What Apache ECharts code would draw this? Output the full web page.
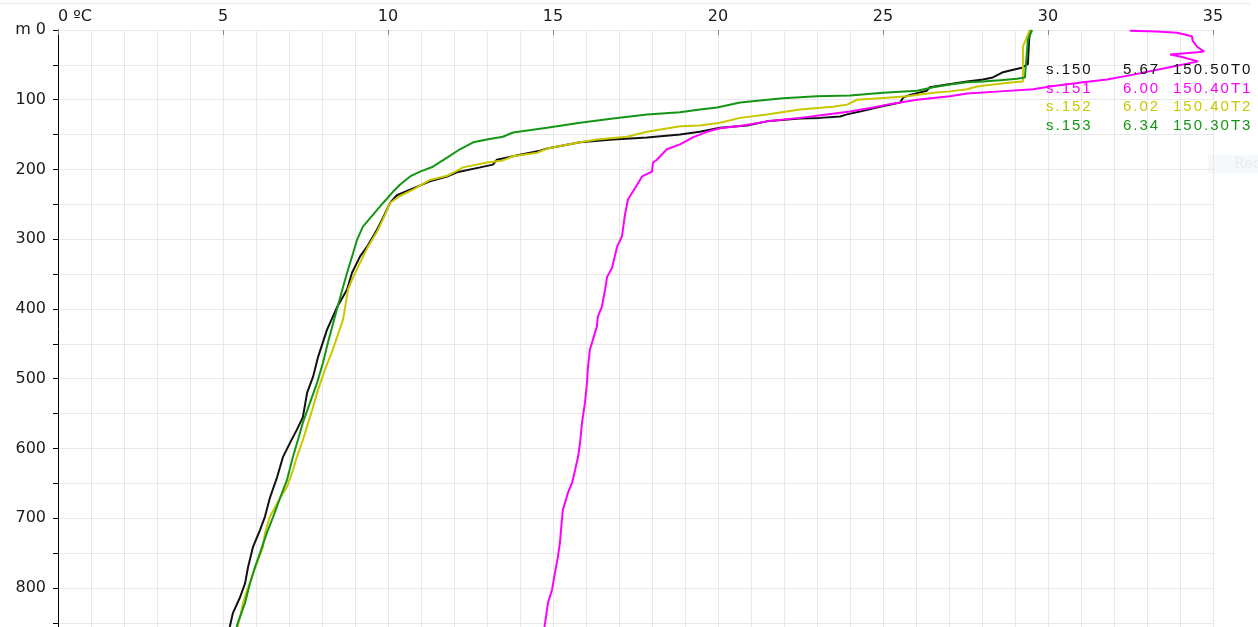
<!DOCTYPE html>
<html>
<head>
<meta charset="utf-8">
<title>Temperature profiles s.150 - s.153</title>
<script src="https://cdn.jsdelivr.net/npm/echarts@6/dist/echarts.min.js"></script>
<style>
  html, body { margin: 0; padding: 0; background: #fff; }
  #chart { width: 1258px; height: 627px; }
</style>
</head>
<body>
<div id="chart"></div>
<script>
// s.150 (black)
const s150Temp = [29.45, 29.42, 29.39, 29.21, 28.85, 28.61, 28.33, 28.03, 27.55, 26.94,
  26.42, 26.33, 25.82, 25.61, 25.52, 24.91, 24.30, 23.91, 23.70, 23.09,
  22.48, 21.48, 20.88, 20.06, 19.45, 18.85, 17.85, 16.82, 15.82, 14.82,
  14.61, 14.00, 13.30, 13.18, 12.79, 12.09, 11.79, 11.27, 10.76, 10.27,
  10.06, 9.85, 9.67, 9.36, 9.15, 8.91, 8.76, 8.45, 8.15, 7.88,
  7.73, 7.55, 7.42, 7.24, 7.03, 6.82, 6.64, 6.42, 6.27, 6.12,
  5.91, 5.76, 5.67, 5.52, 5.30, 5.21, 5.18];
const s150Depth = [0, 21, 49, 54, 58, 61, 68, 71, 74, 78,
  82, 87, 93, 97, 104, 110, 117, 121, 124, 126,
  127, 131, 137, 140, 146, 150, 154, 157, 161, 170,
  173, 179, 186, 193, 197, 204, 210, 217, 227, 237,
  248, 269, 286, 311, 325, 348, 372, 398, 430, 469,
  497, 520, 555, 573, 592, 612, 641, 671, 698, 717,
  741, 770, 793, 813, 836, 855, 860];

// s.151 (magenta)
const s151Temp = [32.48, 33.30, 33.91, 34.36, 34.39, 34.52, 34.73, 34.52, 33.70, 34.00,
  34.55, 33.61, 32.58, 31.79, 31.06, 30.06, 29.55, 28.55, 27.55, 27.03,
  26.03, 25.52, 25.12, 24.70, 24.00, 23.30, 22.48, 21.48, 20.76, 20.06,
  19.67, 19.45, 19.24, 18.85, 18.45, 18.15, 18.03, 18.00, 17.70, 17.55,
  17.27, 17.18, 17.09, 16.94, 16.79, 16.64, 16.58, 16.48, 16.36, 16.33,
  16.21, 16.12, 16.06, 16.03, 15.97, 15.88, 15.82, 15.76, 15.67, 15.58,
  15.45, 15.30, 15.27, 15.21, 15.15, 15.06, 14.97, 14.85, 14.76, 14.73];
const s151Depth = [1, 2, 4, 9, 16, 24, 31, 32, 35, 38,
  45, 54, 64, 71, 75, 81, 85, 88, 91, 95,
  100, 104, 107, 111, 117, 121, 126, 131, 137, 141,
  146, 150, 154, 164, 171, 186, 190, 203, 210, 222,
  243, 265, 296, 311, 341, 354, 372, 397, 411, 425,
  444, 458, 483, 506, 534, 563, 592, 612, 631, 649,
  664, 688, 702, 735, 755, 778, 803, 821, 850, 860];

// s.152 (yellow)
const s152Temp = [29.45, 29.24, 29.24, 29.24, 28.94, 28.33, 27.85, 27.55, 27.03, 26.52,
  25.73, 25.12, 24.21, 23.91, 23.48, 22.48, 21.48, 20.67, 20.06, 19.45,
  18.85, 17.85, 17.24, 16.33, 15.82, 14.82, 14.52, 13.79, 13.48, 13.00,
  12.27, 12.09, 11.79, 11.27, 10.76, 10.36, 10.06, 9.91, 9.67, 9.39,
  9.15, 8.91, 8.79, 8.64, 8.33, 8.09, 7.88, 7.70, 7.42, 7.24,
  7.12, 6.94, 6.73, 6.42, 6.27, 6.21, 6.03, 5.88, 5.73, 5.61,
  5.52, 5.45, 5.42];
const s152Depth = [0, 24, 47, 74, 75, 78, 81, 85, 88, 90,
  95, 97, 100, 107, 110, 114, 121, 126, 133, 137,
  138, 146, 153, 157, 161, 170, 176, 181, 187, 190,
  197, 202, 209, 215, 229, 238, 248, 265, 289, 311,
  334, 358, 372, 415, 458, 487, 516, 545, 588, 612,
  631, 655, 671, 698, 722, 741, 764, 784, 803, 821,
  841, 854, 860];

// s.153 (green)
const s153Temp = [29.52, 29.39, 29.36, 29.30, 29.06, 28.55, 28.03, 27.55, 27.03, 26.52,
  26.03, 25.00, 24.00, 23.00, 21.97, 21.27, 20.67, 19.97, 19.45, 18.85,
  17.85, 16.82, 15.82, 14.82, 13.79, 13.48, 13.00, 12.58, 12.18, 11.79,
  11.36, 10.97, 10.67, 10.36, 10.15, 9.85, 9.67, 9.24, 9.06, 8.91,
  8.76, 8.64, 8.39, 8.18, 8.03, 7.85, 7.64, 7.42, 7.27, 7.12,
  6.94, 6.73, 6.52, 6.33, 6.12, 5.97, 5.82, 5.67, 5.45, 5.39];
const s153Depth = [0, 14, 32, 68, 70, 72, 74, 75, 78, 82,
  87, 90, 94, 95, 98, 101, 104, 111, 114, 118,
  121, 127, 133, 140, 147, 153, 157, 161, 171, 183,
  196, 203, 210, 222, 232, 248, 258, 282, 301, 325,
  348, 368, 411, 448, 477, 506, 534, 563, 588, 612,
  645, 671, 698, 721, 750, 770, 793, 821, 850, 860];

const stationNames = ['s.150', 's.151', 's.152', 's.153'];
const stationVals = ['5.67', '6.00', '6.02', '6.34'];
const stationCodes = ['150.50T0', '150.40T1', '150.40T2', '150.30T3'];
const stationColors = ['#111111', '#ff00ff', '#c8c800', '#149614'];

function pairs(t, d) {
  return t.map(function (v, i) { return [v, d[i]]; });
}

// letter-spaced text for the station list on the right
const legendFont = '15px "Liberation Sans", Arial, sans-serif';
const measureCtx = document.createElement('canvas').getContext('2d');
measureCtx.font = legendFont;
function spacedText(str, x, y, color) {
  const els = [];
  let cx = x;
  for (const ch of str) {
    els.push({
      type: 'text', x: cx, y: y, silent: true, z: 100,
      style: { text: ch, font: legendFont, fill: color, verticalAlign: 'middle' }
    });
    cx += measureCtx.measureText(ch).width + 2;
  }
  return els;
}

const graphics = [
  { type: 'line', silent: true, shape: { x1: 0, y1: 3.5, x2: 1250, y2: 3.5 }, style: { stroke: '#e8e8e8', lineWidth: 1 } },
  { type: 'rect', silent: true, shape: { x: 1208, y: 155, width: 50, height: 18 }, style: { fill: '#f6f9fc' } },
  { type: 'text', silent: true, x: 1234, y: 164, style: { text: 'Rec', font: '14px "DejaVu Serif"', fill: '#e9ebef', verticalAlign: 'middle' } }
];
const rowY = [70, 88.5, 107, 125.5];
stationNames.forEach(function (n, i) {
  graphics.push.apply(graphics, spacedText(n, 1046, rowY[i], stationColors[i]));
  graphics.push.apply(graphics, spacedText(stationVals[i], 1123, rowY[i], stationColors[i]));
  graphics.push.apply(graphics, spacedText(stationCodes[i], 1173, rowY[i], stationColors[i]));
});

const seriesTemp = [s150Temp, s151Temp, s152Temp, s153Temp];
const seriesDepth = [s150Depth, s151Depth, s152Depth, s153Depth];

const chart = echarts.init(document.getElementById('chart'));
chart.setOption({
  animation: false,
  backgroundColor: '#ffffff',
  grid: { left: 58, top: 30, right: 45, bottom: 0, containLabel: false, outerBoundsMode: 'none' },
  xAxis: {
    type: 'value',
    position: 'top',
    min: 0,
    max: 35,
    interval: 5,
    axisLine: { show: false },
    axisTick: { show: true, inside: true, length: 5, lineStyle: { color: '#8c8c8c' } },
    axisLabel: {
      margin: 5,
      fontSize: 16,
      fontFamily: 'DejaVu Sans',
      color: '#1a1a1a',
      alignMinLabel: 'left',
      formatter: function (v) { return v === 0 ? '0 ºC' : String(v); }
    },
    splitLine: { show: true, lineStyle: { color: '#e8e8e8', width: 1 } },
    minorTick: { show: false, splitNumber: 5 },
    minorSplitLine: { show: true, lineStyle: { color: '#e8e8e8', width: 1 } }
  },
  yAxis: {
    type: 'value',
    inverse: true,
    min: 0,
    max: 856,
    interval: 50,
    axisLine: { show: true, lineStyle: { color: '#000', width: 1 } },
    axisTick: { show: true, length: 5, lineStyle: { color: '#000' } },
    axisLabel: {
      margin: 12,
      fontSize: 16,
      fontFamily: 'DejaVu Sans',
      color: '#1a1a1a',
      showMaxLabel: false,
      formatter: function (v) {
        if (v % 100 !== 0) return '';
        return v === 0 ? 'm 0' : String(v);
      }
    },
    splitLine: { show: true, lineStyle: { color: '#e8e8e8', width: 1 } }
  },
  series: stationNames.map(function (n, i) {
    return {
      name: n,
      type: 'line',
      data: pairs(seriesTemp[i], seriesDepth[i]),
      showSymbol: false,
      symbol: 'none',
      clip: true,
      lineStyle: { color: stationColors[i], width: 2 },
      itemStyle: { color: stationColors[i] }
    };
  }),
  graphic: graphics
});
</script>
</body>
</html>
